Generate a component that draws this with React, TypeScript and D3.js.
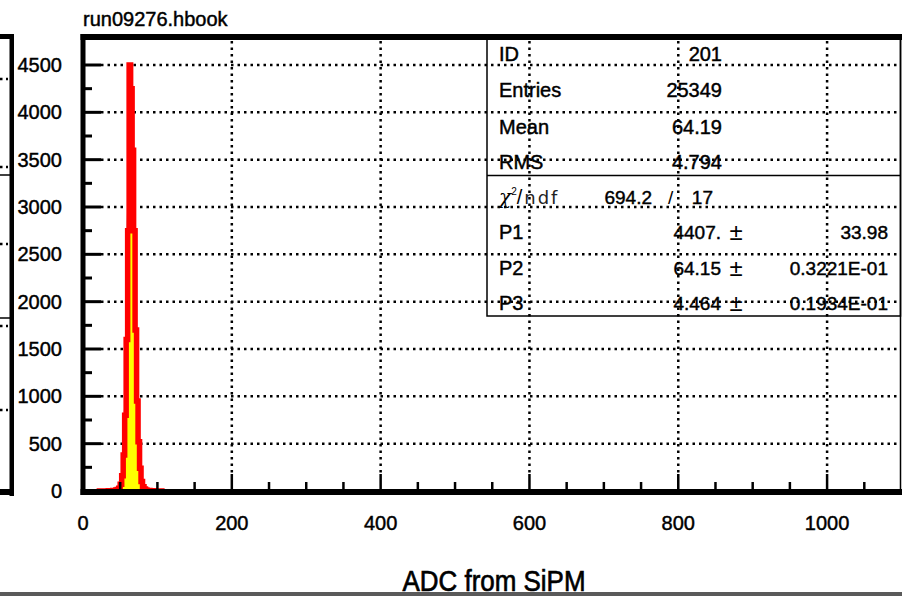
import React from 'react';
import * as d3 from 'd3';

// ---- data ----
const titleText = 'run09276.hbook';
const xTitle = 'ADC from SiPM';
const binWidth = 2;
const binStart = [20, 22, 24, 26, 28, 30, 32, 34, 36, 38, 40, 42, 44, 46, 48, 50, 52, 54, 56, 58, 60, 62, 64, 66, 68, 70, 72, 74, 76, 78, 80, 82, 84, 86, 88, 90, 92, 94, 96, 98, 100, 102, 104, 106];
const binCount = [0, 1, 0, 1, 0, 1, 1, 2, 2, 3, 4, 6, 10, 16, 30, 70, 160, 380, 800, 1600, 2750, 4500, 4250, 3600, 2750, 1700, 950, 520, 240, 100, 45, 20, 10, 6, 4, 3, 2, 2, 1, 1, 1, 0, 1, 0];
const yMajorTicks = [0, 500, 1000, 1500, 2000, 2500, 3000, 3500, 4000, 4500];
const yMinorTicks = [250, 750, 1250, 1750, 2250, 2750, 3250, 3750, 4250];
const xMajorTicks = [0, 200, 400, 600, 800, 1000];
const xMinorTicks = [50, 100, 150, 250, 300, 350, 450, 500, 550, 650, 700, 750, 850, 900, 950, 1050];
const statLabels = ['ID', 'Entries', 'Mean', 'RMS'];
const statValues = ['201', '25349', '64.19', '4.794'];
const chi2Value = '694.2';
const ndfValue = '17';
const parLabels = ['P1', 'P2', 'P3'];
const parValues = ['4407.', '64.15', '4.464'];
const parErrors = ['33.98', '0.3221E-01', '0.1934E-01'];
const fitP = [4407, 64.15, 4.464];
const leftPanelDots = [79, 167, 244, 326, 410];

const FONT = '"Liberation Sans", Arial, Helvetica, sans-serif';
const TS = { stroke: '#000', strokeWidth: 0.45 };

export default function App() {
  const x = d3.scaleLinear().domain([0, 1100]).range([83, 901.5]);
  const y = d3.scaleLinear().domain([0, 4500]).range([491, 65]);

  // histogram step outline
  const pts: [number, number][] = [];
  pts.push([binStart[0], 0]);
  binStart.forEach((b, i) => {
    pts.push([b, binCount[i]]);
    pts.push([b + binWidth, binCount[i]]);
  });
  pts.push([binStart[binStart.length - 1] + binWidth, 0]);
  const histPath = d3.line<[number, number]>().x(d => x(d[0])).y(d => y(d[1]))(pts) || '';

  // fit curve from displayed parameters
  const fitXs = d3.range(40, 90.01, 0.25);
  const fitPath = d3.line<number>()
    .x(v => x(v))
    .y(v => y(fitP[0] * Math.exp(-0.5 * Math.pow((v - fitP[1]) / fitP[2], 2))))(fitXs) || '';

  const frameLeft = 80.5;
  const frameTop = 34;
  const frameRight = 900.5;
  const axisY = 492;

  const statRowsY = [61, 97, 134, 169];
  const parRowsY = [239, 275, 310];

  return (
    <svg width={902} height={596} style={{ position: 'absolute', left: 0, top: 0, background: '#fff' }}
      fontFamily={FONT}>
      <rect x={0} y={0} width={902} height={596} fill="#fff" />

      {/* left partial panel */}
      <rect x={0} y={frameTop} width={14} height={5} fill="#000" />
      <rect x={9.5} y={frameTop} width={4.5} height={462} fill="#000" />
      <rect x={0} y={489} width={14} height={6} fill="#000" />
      <line x1={0} x2={10} y1={175} y2={175} stroke="#000" strokeWidth={1.5} />
      <line x1={0} x2={10} y1={318} y2={318} stroke="#000" strokeWidth={1.5} />
      {leftPanelDots.map((d, i) => (
        <line key={i} x1={0} x2={8} y1={d} y2={d} stroke="#000" strokeWidth={2.5} strokeDasharray="2.5,3.5" />
      ))}

      {/* title */}
      <text x={83} y={26} fontSize={20} fill="#000" {...TS}>{titleText}</text>

      {/* grid */}
      {yMajorTicks.filter(t => t > 0).map(t => (
        <line key={'gy' + t} x1={101} x2={frameRight} y1={y(t)} y2={y(t)}
          stroke="#000" strokeWidth={2.5} strokeDasharray="2.5,4" />
      ))}
      {xMajorTicks.filter(t => t > 0).map(t => (
        <line key={'gx' + t} x1={x(t)} x2={x(t)} y1={41} y2={474}
          stroke="#000" strokeWidth={2.5} strokeDasharray="2.5,4" />
      ))}

      {/* fit (under) + histogram */}
      <path d={fitPath} fill="none" stroke="#000" strokeWidth={1.5} />
      <path d={histPath} fill="#ffff00" stroke="#ff0000" strokeWidth={5.5} strokeLinejoin="miter" />

      {/* stats box */}
      <rect x={487} y={frameTop + 4} width={frameRight - 487} height={316 - frameTop - 4}
        fill="none" stroke="#000" strokeWidth={1.5} />
      <line x1={487} x2={frameRight} y1={175.5} y2={175.5} stroke="#000" strokeWidth={1.5} />
      {statLabels.map((l, i) => (
        <text key={'sl' + i} x={499} y={statRowsY[i]} fontSize={20} fill="#000" {...TS}>{l}</text>
      ))}
      {statValues.map((v, i) => (
        <text key={'sv' + i} x={722} y={statRowsY[i]} fontSize={20} textAnchor="end" fill="#000" {...TS}>{v}</text>
      ))}
      <text x={499} y={204} fontSize={20} fill="#000">
        <tspan fontStyle="italic" fontFamily='"DejaVu Serif", serif'>χ</tspan>
        <tspan dy={-9} fontSize={10}>2</tspan>
        <tspan dy={9} fontWeight={300}>/</tspan>
        <tspan dx={2} letterSpacing={2} fontFamily='"DejaVu Sans", sans-serif' fontSize={18} fill="#222">ndf</tspan>
      </text>
      <text x={652} y={204} fontSize={19} textAnchor="end" fill="#000" {...TS}>{chi2Value}</text>
      <text x={668} y={204} fontSize={19} fill="#000">/</text>
      <text x={713} y={204} fontSize={19} textAnchor="end" fill="#000" {...TS}>{ndfValue}</text>
      {parLabels.map((l, i) => (
        <text key={'pl' + i} x={499} y={parRowsY[i]} fontSize={20} fill="#000" {...TS}>{l}</text>
      ))}
      {parValues.map((v, i) => (
        <g key={'pv' + i}>
          <text x={721} y={parRowsY[i]} fontSize={19} textAnchor="end" fill="#000" {...TS}>{v}</text>
          <text x={736} y={parRowsY[i] + 1} fontSize={24} textAnchor="middle" fill="#000">±</text>
          <text x={888} y={parRowsY[i]} fontSize={19} textAnchor="end" fill="#000" {...TS}>{parErrors[i]}</text>
        </g>
      ))}

      {/* frame */}
      <rect x={frameLeft} y={frameTop} width={902 - frameLeft} height={6} fill="#000" />
      <rect x={frameLeft} y={frameTop} width={5} height={axisY + 3 - frameTop} fill="#000" />
      <rect x={frameLeft} y={axisY - 3} width={902 - frameLeft} height={6} fill="#000" />
      <line x1={frameRight} x2={frameRight} y1={frameTop} y2={axisY} stroke="#000" strokeWidth={1.5} />

      {/* y ticks */}
      {yMajorTicks.filter(t => t > 0).map(t => (
        <line key={'ym' + t} x1={85} x2={101} y1={y(t)} y2={y(t)} stroke="#000" strokeWidth={3} />
      ))}
      {yMinorTicks.map(t => (
        <line key={'yn' + t} x1={85} x2={92} y1={y(t)} y2={y(t)} stroke="#000" strokeWidth={3} />
      ))}
      {yMajorTicks.map(t => (
        <text key={'yl' + t} x={62} y={y(t) + 7} fontSize={20} textAnchor="end" fill="#000" {...TS}>{t}</text>
      ))}

      {/* x ticks */}
      {xMajorTicks.filter(t => t > 0).map(t => (
        <line key={'xm' + t} x1={x(t)} x2={x(t)} y1={axisY} y2={474} stroke="#000" strokeWidth={2.5} />
      ))}
      {xMinorTicks.map(t => (
        <line key={'xn' + t} x1={x(t)} x2={x(t)} y1={axisY} y2={482} stroke="#000" strokeWidth={2.5} />
      ))}
      {xMajorTicks.map(t => (
        <text key={'xl' + t} x={x(t)} y={530} fontSize={20} textAnchor="middle" fill="#000" {...TS}>{t}</text>
      ))}

      {/* x title */}
      <text x={494} y={591} fontSize={30} textAnchor="middle" fill="#000" stroke="#000" strokeWidth={0.7}
        textLength={183} lengthAdjust="spacingAndGlyphs">{xTitle}</text>
      <rect x={0} y={592} width={902} height={4} fill="#5a5a5a" />
    </svg>
  );
}
